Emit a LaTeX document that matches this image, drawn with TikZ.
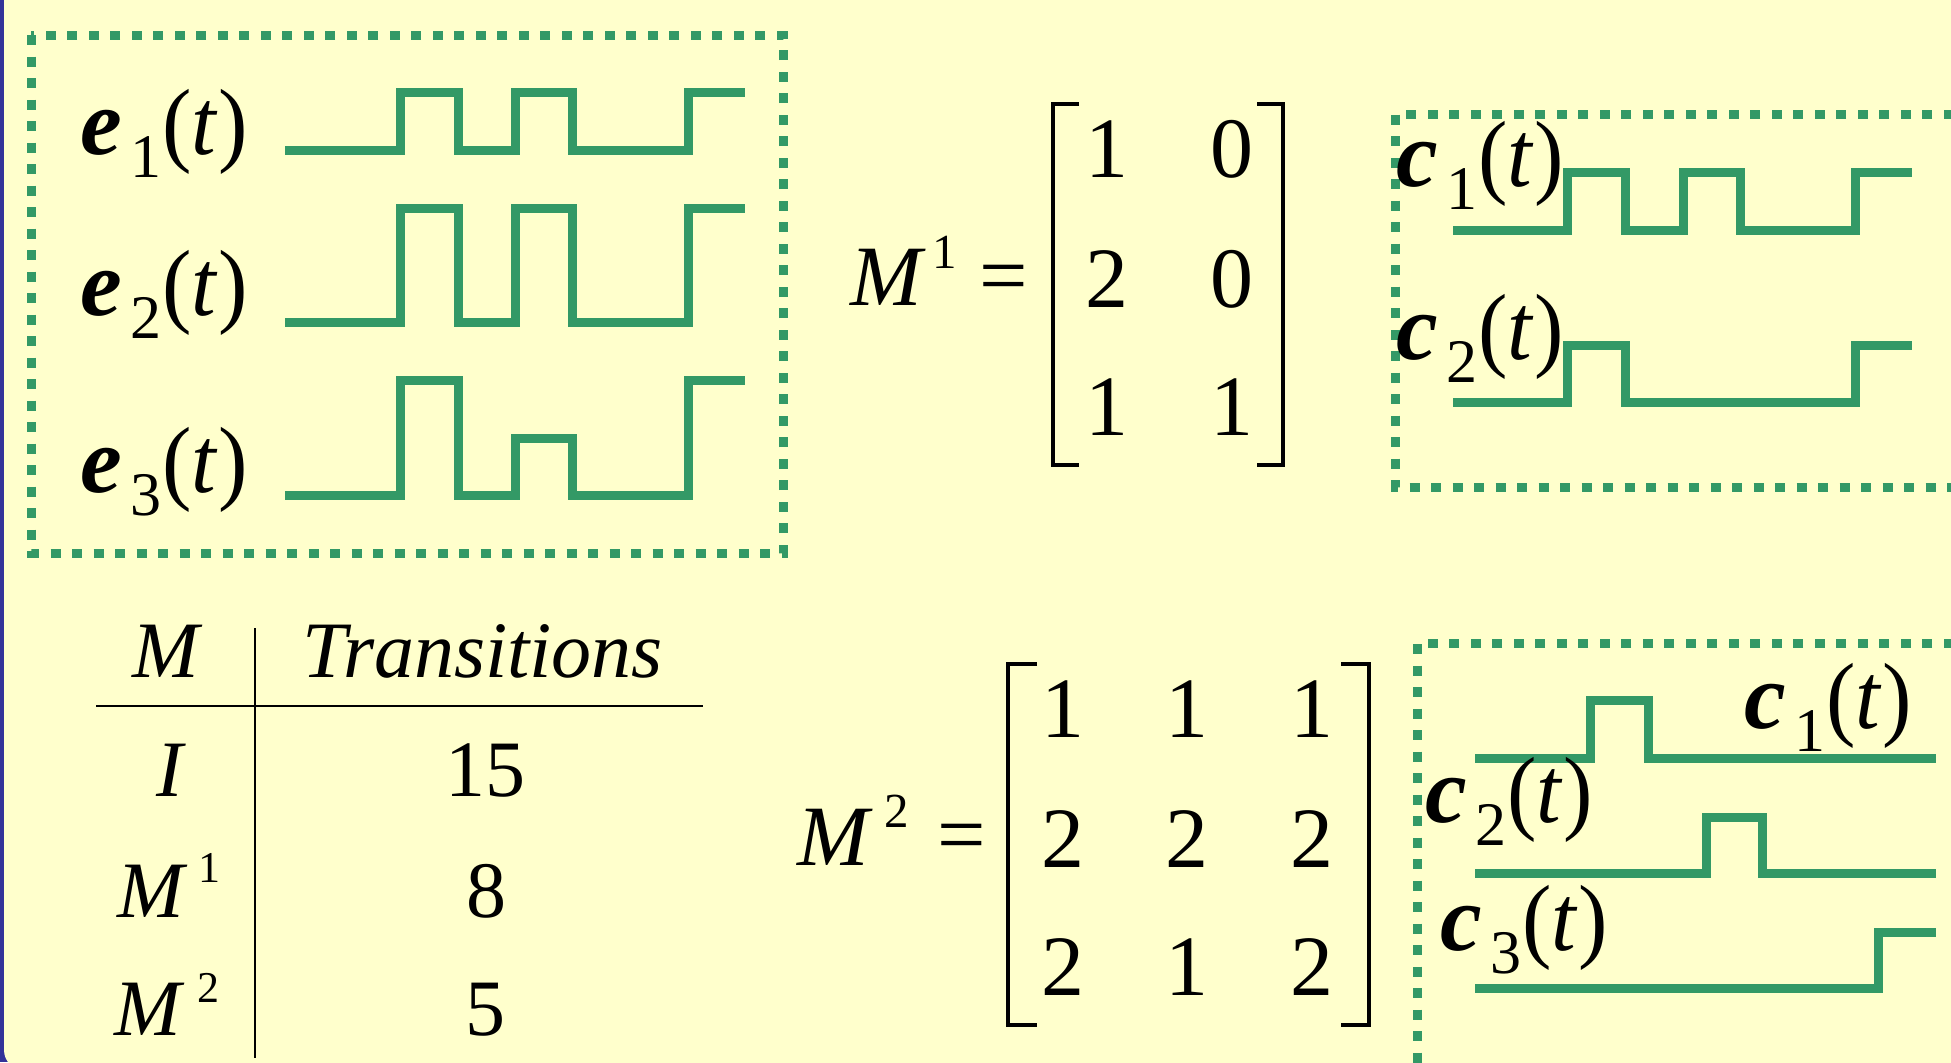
\documentclass[tikz,border=0pt]{standalone}
\usepackage{fontspec}
\setmainfont{Liberation Serif}
\definecolor{bg}{HTML}{FFFFCC}
\definecolor{slide}{HTML}{333399}
\definecolor{wave}{HTML}{339966}
\newcommand\sig[2]{{\bfseries\itshape #1}\kern4.4pt\raisebox{-11.5pt}{\fontsize{31pt}{31pt}\selectfont #2}\kern0.5pt\scalebox{0.94}[1]{(\textit{t})}}
\tikzset{
  wavef/.style={draw=wave, line width=4.5pt, line join=miter},
  dotbox/.style={draw=wave, line width=4.5pt, dash pattern=on 5pt off 5.75pt},
  lbl/.style={inner sep=0pt, outer sep=0pt, anchor=base west, font=\fontsize{47pt}{47pt}\selectfont},
  mat/.style={inner sep=0pt, outer sep=0pt, anchor=base, font=\fontsize{43pt}{43pt}\selectfont},
  msup/.style={inner sep=0pt, outer sep=0pt, anchor=base west, font=\fontsize{24.5pt}{24.5pt}\selectfont},
  tab/.style={inner sep=0pt, outer sep=0pt, anchor=base, font=\fontsize{40pt}{40pt}\selectfont},
  tsup/.style={inner sep=0pt, outer sep=0pt, anchor=base west, font=\fontsize{22pt}{22pt}\selectfont},
  brk/.style={draw=black, line width=2.2pt},
  rulel/.style={draw=black, line width=1pt},
}
\begin{document}
\begin{tikzpicture}[x=0.5pt, y=-0.5pt]
\useasboundingbox (0,0) rectangle (1951,1062);
\clip (0,0) rectangle (1951,1062);
\fill[slide] (0,0) rectangle (1951,1062);
\fill[bg, rounded corners=10pt] (4,-40) rectangle (1990,1070);

% ---- top-left box: e signals
\draw[dotbox] (31,35) rectangle (783,553);
\node[lbl] (e1) at (80,154) {\sig{e}{1}};
\node[lbl] (e2) at (80,315) {\sig{e}{2}};
\node[lbl] (e3) at (80,492) {\sig{e}{3}};
\draw[wavef] (285,150) -- (400,150) -- (400,92) -- (458,92) -- (458,150) -- (515,150) -- (515,92) -- (572,92) -- (572,150) -- (688,150) -- (688,92) -- (745,92);
\draw[wavef] (285,322) -- (400,322) -- (400,208) -- (458,208) -- (458,322) -- (515,322) -- (515,208) -- (572,208) -- (572,322) -- (688,322) -- (688,208) -- (745,208);
\draw[wavef] (285,495) -- (400,495) -- (400,380) -- (458,380) -- (458,495) -- (515,495) -- (515,438) -- (572,438) -- (572,495) -- (688,495) -- (688,380) -- (745,380);

% ---- M^1 matrix
\node[mat, anchor=base west] (m1M) at (850,305) {\textit{M}};
\node[msup] (m1s) at (932,268) {1};
\node[inner sep=0pt, font=\fontsize{43pt}{43pt}\selectfont] (m1eq) at (1004,285) {=};
\draw[brk] (1079,104) -- (1053,104) -- (1053,465) -- (1079,465);
\draw[brk] (1257,104) -- (1283,104) -- (1283,465) -- (1257,465);
\node[mat] (a11) at (1107,177) {1};
\node[mat] (a12) at (1232,177) {0};
\node[mat] (a21) at (1107,307) {2};
\node[mat] (a22) at (1232,307) {0};
\node[mat] (a31) at (1107,435) {1};
\node[mat] (a32) at (1232,435) {1};

% ---- top-right box: c signals
\draw[dotbox] (1975,114) -- (1395,114) -- (1395,487) -- (1975,487);
\node[lbl] (c1a) at (1396,186) {\sig{c}{1}};
\node[lbl] (c2a) at (1396,359) {\sig{c}{2}};
\draw[wavef] (1453,230) -- (1567,230) -- (1567,172) -- (1625,172) -- (1625,230) -- (1683,230) -- (1683,172) -- (1740,172) -- (1740,230) -- (1855,230) -- (1855,172) -- (1912,172);
\draw[wavef] (1453,402) -- (1567,402) -- (1567,345) -- (1625,345) -- (1625,402) -- (1855,402) -- (1855,345) -- (1912,345);

% ---- table
\draw[rulel] (96,706) -- (703,706);
\draw[rulel] (255,628) -- (255,1058);
\node[tab] (thM) at (168,677) {\textit{M}};
\node[tab] (thT) at (483,677) {\textit{Transitions}};
\node[tab] (tI) at (171,796) {\textit{I}};
\node[tab] (t15) at (485,796) {15};
\node[tab, anchor=base west] (tM1) at (117,917) {\textit{M}};
\node[tsup] (tM1s) at (198,882) {1};
\node[tab] (t8) at (486,917) {8};
\node[tab, anchor=base west] (tM2) at (114,1035) {\textit{M}};
\node[tsup] (tM2s) at (197,1002) {2};
\node[tab] (t5) at (485,1035) {5};

% ---- M^2 matrix
\node[mat, anchor=base west] (m2M) at (797,865) {\textit{M}};
\node[msup] (m2s) at (884,827) {2};
\node[inner sep=0pt, font=\fontsize{43pt}{43pt}\selectfont] (m2eq) at (962,844) {=};
\draw[brk] (1037,664) -- (1008,664) -- (1008,1025) -- (1037,1025);
\draw[brk] (1341,664) -- (1369,664) -- (1369,1025) -- (1341,1025);
\node[mat] (b11) at (1063,737) {1};
\node[mat] (b12) at (1187,737) {1};
\node[mat] (b13) at (1312,737) {1};
\node[mat] (b21) at (1063,867) {2};
\node[mat] (b22) at (1187,867) {2};
\node[mat] (b23) at (1312,867) {2};
\node[mat] (b31) at (1063,995) {2};
\node[mat] (b32) at (1187,995) {1};
\node[mat] (b33) at (1312,995) {2};

% ---- bottom-right box
\draw[dotbox] (1975,643) -- (1417,643) -- (1417,1080);
\draw[wavef] (1475,758) -- (1590,758) -- (1590,700) -- (1648,700) -- (1648,758) -- (1936,758);
\draw[wavef] (1475,873) -- (1706,873) -- (1706,817) -- (1762,817) -- (1762,873) -- (1936,873);
\draw[wavef] (1475,988) -- (1878,988) -- (1878,932) -- (1936,932);
\node[lbl] (c1b) at (1744,728) {\sig{c}{1}};
\node[lbl] (c2b) at (1425,822) {\sig{c}{2}};
\node[lbl] (c3b) at (1440,950) {\sig{c}{3}};
\end{tikzpicture}
\end{document}
